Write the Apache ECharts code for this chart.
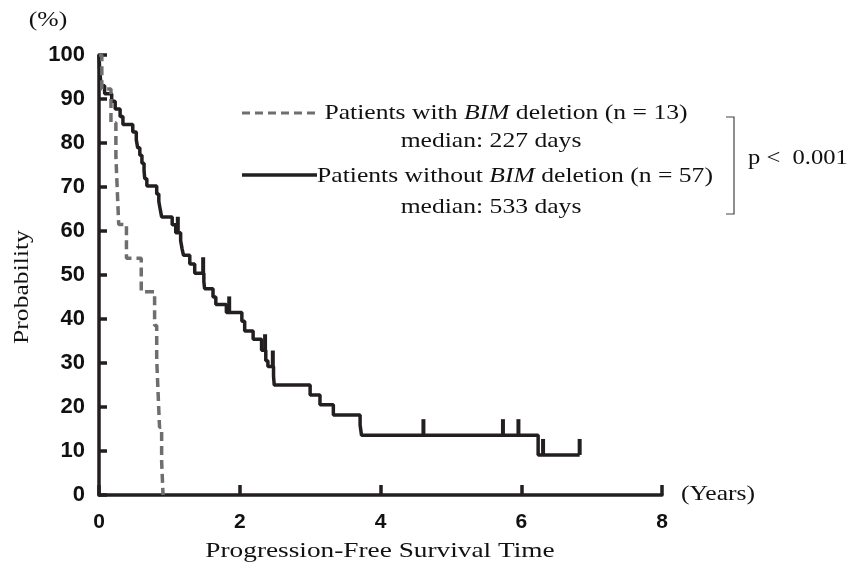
<!DOCTYPE html>
<html>
<head>
<meta charset="utf-8">
<script src="https://cdn.jsdelivr.net/npm/echarts@6/dist/echarts.min.js"></script>
<style>html,body{margin:0;padding:0;background:#fff}#c{width:847px;height:564px}</style>
</head>
<body>
<div id="c"></div>
<script>
// Patients with BIM deletion (n = 13): time (years) and survival (%)
var bimDelTime = [0, 0.04, 0.17, 0.24, 0.26, 0.28, 0.39, 0.60, 0.79, 0.82, 0.84, 0.86, 0.89, 0.91];
var bimDelSurv = [100, 92.3, 84.6, 76.9, 69.2, 61.5, 53.8, 46.2, 38.5, 30.8, 23.1, 15.4, 7.7, 0];

// Patients without BIM deletion (n = 57)
var noDelTime = [0, 0.005, 0.01, 0.02, 0.03, 0.08, 0.18, 0.23, 0.30, 0.34, 0.48, 0.53, 0.55, 0.58, 0.61, 0.64, 0.65, 0.68, 0.82, 0.85, 0.87, 0.89, 1.04, 1.09, 1.16, 1.18, 1.20, 1.29, 1.36, 1.49, 1.50, 1.62, 1.66, 1.81, 2.03, 2.07, 2.19, 2.31, 2.37, 2.40, 2.48, 2.49, 3.00, 3.14, 3.33, 3.71, 3.73, 6.24, 6.83];
var noDelSurv = [100, 98.2, 96.5, 94.7, 93.0, 91.2, 89.5, 87.7, 86.0, 84.2, 82.5, 80.7, 78.9, 77.2, 75.4, 73.7, 71.9, 70.2, 68.4, 66.7, 64.9, 63.2, 61.4, 59.6, 57.8, 56.0, 54.5, 52.5, 50.4, 48.5, 46.9, 45.0, 43.3, 41.5, 39.5, 37.3, 35.4, 32.9, 30.5, 29.2, 27.0, 25.0, 22.7, 20.5, 18.2, 15.9, 13.6, 9.1, 9.1];

// Censored observations (without deletion)
var censorTime = [1.12, 1.48, 1.85, 2.36, 2.47, 4.61, 5.74, 5.96, 6.31, 6.83];
var censorSurv = [59.6, 50.4, 41.5, 32.9, 29.2, 13.6, 13.6, 13.6, 9.1, 9.1];

var xTicks = [0, 2, 4, 6, 8];
var yTicks = [0, 10, 20, 30, 40, 50, 60, 70, 80, 90, 100];

function zip(a, b) { return a.map(function (v, i) { return [v, b[i]]; }); }

var serif = '"Liberation Serif", "Times New Roman", serif';
var sans = '"Liberation Sans", Arial, sans-serif';
var SX = 1.22;

function stxt(x, y, text, align, extra) {
  var o = {
    type: 'text', x: x, y: y, scaleX: SX, originX: 0, originY: 0,
    style: {
      text: text, font: '21px ' + serif, fill: '#111', align: align || 'center', verticalAlign: 'middle',
      rich: { i: { fontStyle: 'italic', fontFamily: serif, fontSize: 21, fill: '#111' } }
    }
  };
  if (extra) { for (var k in extra) o[k] = extra[k]; }
  return o;
}

var chart = echarts.init(document.getElementById('c'));
chart.setOption({
  animation: false,
  backgroundColor: '#fff',
  grid: { left: 99, right: 185, top: 55, bottom: 69, containLabel: false },
  xAxis: {
    type: 'value', min: xTicks[0], max: xTicks[xTicks.length - 1], interval: 2,
    axisLine: { show: true, onZero: false, lineStyle: { color: '#231f20', width: 3.5 } },
    axisTick: { show: true, inside: true, length: 10, lineStyle: { color: '#231f20', width: 3.5 } },
    axisLabel: { color: '#111', fontFamily: sans, fontWeight: 'bold', fontSize: 21, margin: 17 },
    splitLine: { show: false }
  },
  yAxis: {
    type: 'value', min: 0, max: 100, interval: 10,
    axisLine: { show: true, lineStyle: { color: '#231f20', width: 3.5 } },
    axisTick: { show: true, inside: true, length: 8, lineStyle: { color: '#231f20', width: 3.5 } },
    axisLabel: { color: '#111', fontFamily: sans, fontWeight: 'bold', fontSize: 22, margin: 14 },
    splitLine: { show: false }
  },
  series: [
    {
      type: 'line', step: 'end', symbol: 'none', z: 3,
      data: zip(noDelTime, noDelSurv),
      lineStyle: { color: '#231f20', width: 3.5 }
    },
    {
      type: 'line', step: 'end', symbol: 'none', z: 4,
      data: zip(bimDelTime, bimDelSurv),
      lineStyle: { color: '#6e6e6e', width: 3.5, type: [9, 5] }
    },
    {
      type: 'scatter', z: 3,
      data: zip(censorTime, censorSurv),
      symbol: 'rect', symbolSize: [4, 16], symbolOffset: [0, -8],
      itemStyle: { color: '#231f20', opacity: 1 }
    }
  ],
  graphic: [
    stxt(48, 20, '(%)', 'center'),
    stxt(718, 494, '(Years)', 'center'),
    stxt(22, 287, 'Probability', 'center', { rotation: Math.PI / 2 }),
    stxt(380, 551, 'Progression-Free Survival Time', 'center', { scaleX: 1.3 }),
    { type: 'line', shape: { x1: 242, y1: 113, x2: 316, y2: 113 }, style: { stroke: '#6e6e6e', lineWidth: 3, lineDash: [8, 5] } },
    { type: 'line', shape: { x1: 242, y1: 175, x2: 317, y2: 175 }, style: { stroke: '#231f20', lineWidth: 3.5 } },
    stxt(506, 113, 'Patients with {i|BIM} deletion (n = 13)', 'center'),
    stxt(491, 141, 'median: 227 days', 'center'),
    stxt(515, 176, 'Patients without {i|BIM} deletion (n = 57)', 'center'),
    stxt(491, 207, 'median: 533 days', 'center'),
    { type: 'polyline', shape: { points: [[726, 117], [734, 117], [734, 214], [726, 214]] }, style: { stroke: '#444', lineWidth: 1.2, fill: null } },
    stxt(748, 158, 'p <  0.001', 'left', { scaleX: 1.17 })
  ]
});
</script>
</body>
</html>
